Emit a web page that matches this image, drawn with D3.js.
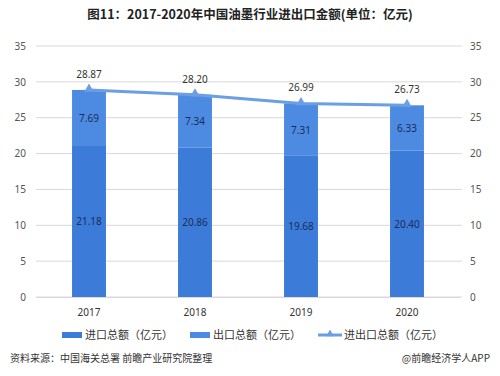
<!DOCTYPE html>
<html><head><meta charset="utf-8">
<script src="https://cdn.jsdelivr.net/npm/d3@7"></script>
<style>body{margin:0;background:#fff;font-family:"Noto Sans CJK SC","Noto Sans",sans-serif;}</style>
</head><body><svg id="c" width="500" height="376"></svg>
<script>
const years = ["2017","2018","2019","2020"];
const importVals = [21.18, 20.86, 19.68, 20.40];
const exportVals = [7.69, 7.34, 7.31, 6.33];
const totalVals = [28.87, 28.20, 26.99, 26.73];
const ticks = [0,5,10,15,20,25,30,35];
const legendLabels = ["进口总额（亿元）","出口总额（亿元）","进出口总额（亿元）"];

const svg = d3.select("#c");
const cImp = "#3c7bd8", cExp = "#4d8be2", cLine = "#6b9fe3";
const x = d3.scaleBand().domain(years).range([36,460]).paddingInner(0.68).paddingOuter(0.34);
const y = d3.scaleLinear().domain([0,35]).range([297,46]);

svg.append("text").attr("x",250).attr("y",19).attr("text-anchor","middle")
  .attr("font-size",12.5).attr("font-weight","bold").attr("fill","#222")
  .text("图11：2017-2020年中国油墨行业进出口金额(单位：亿元)");

// grid
svg.append("g").selectAll("line").data(ticks).join("line")
  .attr("x1",36).attr("x2",462).attr("y1",d=>y(d)).attr("y2",d=>y(d))
  .attr("stroke","#d9d9d9").attr("stroke-width",1);

const axL = svg.append("g").attr("transform","translate(36,0)")
  .call(d3.axisLeft(y).tickValues(ticks).tickSize(0).tickPadding(10));
const axR = svg.append("g").attr("transform","translate(462,0)")
  .call(d3.axisRight(y).tickValues(ticks).tickSize(0).tickPadding(8));
[axL,axR].forEach(a=>{a.select(".domain").remove();a.selectAll("text").attr("font-size",10).attr("fill","#555").attr("font-family","Noto Sans, sans-serif");});

const axB = svg.append("g").attr("transform","translate(0,297)")
  .call(d3.axisBottom(x).tickSize(0).tickPadding(12));
axB.select(".domain").attr("stroke","#d9d9d9");
axB.selectAll("text").attr("font-size",10).attr("fill","#333").attr("font-family","Noto Sans, sans-serif");

// bars
svg.append("g").selectAll("rect").data(years).join("rect")
  .attr("x",d=>x(d)).attr("width",x.bandwidth())
  .attr("y",(d,i)=>y(importVals[i])).attr("height",(d,i)=>y(0)-y(importVals[i])).attr("fill",cImp);
svg.append("g").selectAll("rect").data(years).join("rect")
  .attr("x",d=>x(d)).attr("width",x.bandwidth())
  .attr("y",(d,i)=>y(importVals[i]+exportVals[i])).attr("height",(d,i)=>y(importVals[i])-y(importVals[i]+exportVals[i])).attr("fill",cExp);

// line
const cx = d=>x(d)+x.bandwidth()/2;
svg.append("path").datum(years)
  .attr("d",d3.line().x(cx).y((d,i)=>y(totalVals[i])))
  .attr("fill","none").attr("stroke",cLine).attr("stroke-width",3);
svg.append("g").selectAll("path").data(years).join("path")
  .attr("d",d3.symbol(d3.symbolTriangle,40))
  .attr("transform",(d,i)=>`translate(${cx(d)},${y(totalVals[i])-1})`).attr("fill",cLine);

// labels
const lab = svg.append("g").attr("font-size",10).attr("text-anchor","middle").attr("font-family","Noto Sans, sans-serif");
lab.selectAll(".t").data(years).join("text").attr("x",cx).attr("y",(d,i)=>y(totalVals[i])-12)
  .attr("fill","#333").text((d,i)=>totalVals[i].toFixed(2));
lab.selectAll(".e").data(years).join("text").attr("x",cx).attr("y",(d,i)=>y(importVals[i]+exportVals[i]/2)+4)
  .attr("fill","#1a2e5c").text((d,i)=>exportVals[i].toFixed(2));
lab.selectAll(".i").data(years).join("text").attr("x",cx).attr("y",(d,i)=>y(importVals[i]/2)+4)
  .attr("fill","#1a2e5c").text((d,i)=>importVals[i].toFixed(2));

// legend
const lg = svg.append("g").attr("font-size",11).attr("fill","#333");
const lx = [62,190,318];
lg.append("rect").attr("x",lx[0]).attr("y",332).attr("width",20).attr("height",6).attr("fill",cImp);
lg.append("rect").attr("x",lx[1]).attr("y",332).attr("width",20).attr("height",6).attr("fill",cExp);
lg.append("line").attr("x1",lx[2]).attr("x2",lx[2]+24).attr("y1",335).attr("y2",335).attr("stroke",cLine).attr("stroke-width",3);
lg.append("path").attr("d",d3.symbol(d3.symbolTriangle,25)).attr("transform",`translate(${lx[2]+12},334)`).attr("fill",cLine);
lg.selectAll("text").data(legendLabels).join("text")
  .attr("x",(d,i)=>lx[i]+(i===2?26:23)).attr("y",339).text(d=>d);

svg.append("text").attr("x",10).attr("y",362).attr("font-size",10).attr("fill","#333").text("资料来源：中国海关总署 前瞻产业研究院整理");
svg.append("text").attr("x",490).attr("y",362).attr("text-anchor","end").attr("font-size",10).attr("fill","#333").text("@前瞻经济学人APP");
</script></body></html>
